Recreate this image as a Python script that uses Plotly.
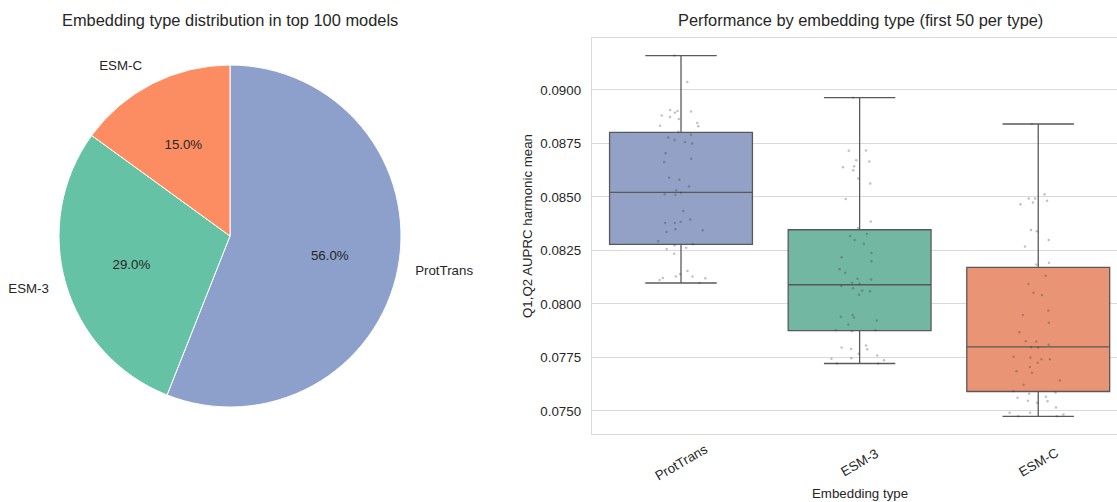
import plotly.graph_objects as go

# ---- data -------------------------------------------------------------
pie_labels = ["ProtTrans", "ESM-3", "ESM-C"]
pie_shares = [56, 29, 15]

categories = ["ProtTrans", "ESM-3", "ESM-C"]

prottrans_scores = [
    0.09161, 0.09037, 0.08902, 0.08894, 0.08899, 0.08906, 0.08881, 0.08864, 0.08874, 0.08846,
    0.08831, 0.08833, 0.08805, 0.08791, 0.08778, 0.08757, 0.08766, 0.08750, 0.08704, 0.08679,
    0.08664, 0.08590, 0.08580, 0.08549, 0.08532, 0.08520, 0.08513, 0.08510, 0.08434, 0.08395,
    0.08379, 0.08384, 0.08379, 0.08345, 0.08337, 0.08349, 0.08293, 0.08274, 0.08279, 0.08263,
    0.08257, 0.08235, 0.08154, 0.08140, 0.08121, 0.08129, 0.08129, 0.08120, 0.08112, 0.08098,
]
esm3_scores = [
    0.08964, 0.08716, 0.08717, 0.08672, 0.08666, 0.08639, 0.08625, 0.08644, 0.08586, 0.08563,
    0.08491, 0.08386, 0.08355, 0.08327, 0.08318, 0.08299, 0.08282, 0.08238, 0.08219, 0.08162,
    0.08146, 0.08118, 0.08115, 0.08099, 0.08095, 0.08084, 0.08063, 0.08059, 0.08073, 0.08043,
    0.07940, 0.07923, 0.07937, 0.07949, 0.07904, 0.07877, 0.07873, 0.07877, 0.07789, 0.07790,
    0.07767, 0.07759, 0.07797, 0.07806, 0.07737, 0.07744, 0.07747, 0.07722, 0.07722, 0.08200,
]
esmc_scores = [
    0.08841, 0.08513, 0.08493, 0.08493, 0.08474, 0.08466, 0.08482, 0.08340, 0.08346, 0.08299,
    0.08269, 0.08185, 0.08193, 0.08132, 0.08093, 0.08042, 0.08052, 0.07970, 0.07949, 0.07912,
    0.07868, 0.07826, 0.07825, 0.07809, 0.07797, 0.07798, 0.07742, 0.07750, 0.07754, 0.07742,
    0.07725, 0.07706, 0.07686, 0.07679, 0.07642, 0.07623, 0.07586, 0.07580, 0.07592, 0.07567,
    0.07562, 0.07545, 0.07539, 0.07548, 0.07516, 0.07492, 0.07492, 0.07484, 0.07475, 0.07475,
]

# box summary per type: lower whisker, Q1, median, Q3, upper whisker
box_lower = [0.08098, 0.07722, 0.07475]
box_q1 = [0.08279, 0.07876, 0.07591]
box_median = [0.08522, 0.08090, 0.07800]
box_q3 = [0.08802, 0.08347, 0.08171]
box_upper = [0.09161, 0.08964, 0.08841]

y_ticks = [0.0750, 0.0775, 0.0800, 0.0825, 0.0850, 0.0875, 0.0900]

# ---- styling ----------------------------------------------------------
W, H = 1117, 502
FONT = "Liberation Sans, Arial, sans-serif"
TEXT = "#262626"
CLEAR = "rgba(0,0,0,0)"
pie_colors = {"ESM-C": "#fc8d62", "ESM-3": "#66c2a5", "ProtTrans": "#8da0cb"}
box_colors = {"ProtTrans": "#92a1c5", "ESM-3": "#71b7a1", "ESM-C": "#e99575"}
scores = {"ProtTrans": prottrans_scores, "ESM-3": esm3_scores, "ESM-C": esmc_scores}

# pie geometry (pixels)
PIE_CX, PIE_CY, PIE_R = 230, 236, 171


def pie_domain(radius):
    return dict(x=[(PIE_CX - radius) / W, (PIE_CX + radius) / W],
                y=[1 - (PIE_CY + radius) / H, 1 - (PIE_CY - radius) / H])


def clear_pie(**kw):
    return go.Pie(labels=pie_labels, values=pie_shares, sort=False,
                  direction="clockwise", rotation=0,
                  marker=dict(colors=[CLEAR] * len(pie_labels),
                              line=dict(color=CLEAR, width=0)),
                  showlegend=False, hoverinfo="skip", **kw)


fig = go.Figure()

# coloured slices
fig.add_trace(go.Pie(
    labels=pie_labels, values=pie_shares, sort=False,
    direction="clockwise", rotation=0,
    marker=dict(colors=[pie_colors[l] for l in pie_labels],
                line=dict(color="white", width=1)),
    textinfo="none", domain=pie_domain(PIE_R),
    showlegend=False, hoverinfo="label+percent",
))

# category names just outside the rim
fig.add_trace(clear_pie(
    texttemplate="%{label}", textposition="outside",
    outsidetextfont=dict(family=FONT, size=13.3, color=TEXT),
    domain=pie_domain(PIE_R * 1.08),
))

# percentages at ~60% of the radius: plotly centres inside text at
# (1 - inscribed-circle fraction) of the radius, so each label rides on a
# transparent pie scaled to bring that point to 0.6 * PIE_R
label_radius = {"ProtTrans": PIE_R * 0.6 / 0.5045,
                "ESM-3": PIE_R * 0.6 / 0.5586,
                "ESM-C": PIE_R * 0.6 / 0.6878}
for j, lab in enumerate(pie_labels):
    fig.add_trace(clear_pie(
        texttemplate=["%{percent:.1%}" if k == j else "" for k in range(len(pie_labels))],
        textposition="inside", insidetextorientation="horizontal",
        insidetextfont=dict(family=FONT, size=13.3, color=TEXT),
        domain=pie_domain(label_radius[lab]),
    ))

# boxes from the summary statistics
for i, cat in enumerate(categories):
    fig.add_trace(go.Box(
        x=[cat], q1=[box_q1[i]], median=[box_median[i]], q3=[box_q3[i]],
        lowerfence=[box_lower[i]], upperfence=[box_upper[i]],
        fillcolor=box_colors[cat], line=dict(color="#595959", width=1.3),
        width=0.8, whiskerwidth=0.5, boxpoints=False,
        showlegend=False, hoverinfo="skip",
    ))

# individual scores as jittered dots
for cat in categories:
    vals = scores[cat]
    fig.add_trace(go.Box(
        x=[cat] * len(vals), y=vals,
        boxpoints="all", jitter=0.5, pointpos=0,
        fillcolor=CLEAR, line=dict(color=CLEAR, width=0),
        marker=dict(size=2.5, color="rgba(50,50,50,0.3)"),
        width=0.8, showlegend=False, hoverinfo="y",
    ))

GRID = "#d9d9d9"
fig.update_layout(
    width=W, height=H,
    margin=dict(l=0, r=0, t=0, b=0),
    paper_bgcolor="white", plot_bgcolor="white",
    font=dict(family=FONT, size=13.3, color=TEXT),
    boxmode="overlay",
    xaxis=dict(
        type="category", categoryorder="array", categoryarray=categories,
        domain=[591.7 / W, 1.0], range=[-0.5, 2.441],
        showticklabels=False, showgrid=False, zeroline=False,
        showline=True, linecolor=GRID, linewidth=1, mirror=True,
    ),
    yaxis=dict(
        domain=[1 - 434 / H, 1 - 37.5 / H], range=[0.073925, 0.092453],
        tickvals=y_ticks, tickformat=".4f",
        tickfont=dict(family=FONT, size=13.3, color=TEXT),
        ticklabelstandoff=7,
        showgrid=True, gridcolor=GRID, gridwidth=1, zeroline=False,
        showline=True, linecolor=GRID, linewidth=1, mirror=False,
    ),
)

annotations = [
    dict(text="Embedding type distribution in top 100 models",
         x=230 / W, y=1 - 20 / H, xref="paper", yref="paper",
         xanchor="center", yanchor="middle", showarrow=False,
         font=dict(family=FONT, size=16.4, color=TEXT)),
    dict(text="Performance by embedding type (first 50 per type)",
         x=860 / W, y=1 - 20 / H, xref="paper", yref="paper",
         xanchor="center", yanchor="middle", showarrow=False,
         font=dict(family=FONT, size=16.4, color=TEXT)),
    dict(text="Embedding type", x=860 / W, y=1 - 493 / H,
         xref="paper", yref="paper", xanchor="center", yanchor="middle",
         showarrow=False, font=dict(family=FONT, size=13.3, color=TEXT)),
    dict(text="Q1,Q2 AUPRC harmonic mean", x=527 / W, y=1 - 226 / H,
         xref="paper", yref="paper", xanchor="center", yanchor="middle",
         textangle=-90, showarrow=False,
         font=dict(family=FONT, size=13.3, color=TEXT)),
]
# rotated category labels under the box plot
for cat in categories:
    annotations.append(dict(
        text=cat, x=cat, y=1 - 462 / H, xref="x", yref="paper",
        xanchor="center", yanchor="middle", textangle=-30, showarrow=False,
        font=dict(family=FONT, size=13.3, color=TEXT),
    ))
fig.update_layout(annotations=annotations)

fig.write_html("out.html")
